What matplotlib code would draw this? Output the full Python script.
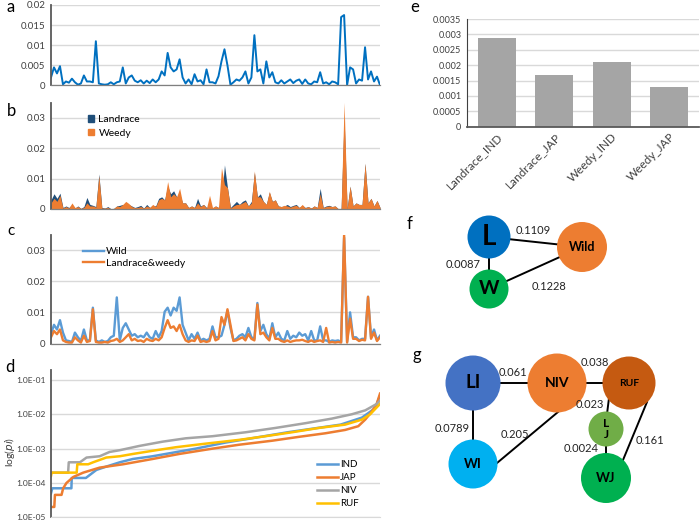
import matplotlib
matplotlib.use('Agg')
import matplotlib.pyplot as plt
from matplotlib.patches import Circle, Patch
from matplotlib.ticker import FixedLocator, NullLocator

plt.rcParams['font.family'] = ['Lato', 'DejaVu Sans']

# ---- panel a: pi along the genome (x1e-3) ----
pi_all = [2.0, 4.5, 3.0, 4.8, 0.3, 1.0, 0.7, 1.7, 0.8, 0.2,
          0.5, 2.5, 1.0, 1.0, 0.8, 11.0, 0.5, 0.3, 0.2, 0.3,
          0.8, 0.3, 0.8, 1.0, 4.5, 0.5, 2.0, 2.5, 1.2, 0.8,
          1.3, 0.5, 1.2, 0.6, 1.5, 0.8, 1.5, 3.5, 2.5, 8.1,
          4.5, 3.5, 4.0, 6.5, 2.0, 0.5, 1.5, 0.3, 2.8, 1.0,
          1.3, 0.3, 4.0, 0.8, 0.8, 0.5, 2.3, 6.0, 9.0, 5.0,
          0.2, 0.8, 1.5, 1.2, 2.0, 3.5, 0.5, 2.0, 12.5, 3.5,
          4.0, 0.5, 6.0, 2.0, 3.3, 0.8, 0.5, 1.3, 0.5, 1.0,
          1.5, 0.6, 1.2, 1.5, 0.4, 1.5, 0.5, 0.3, 1.0, 0.8,
          3.3, 0.5, 0.8, 0.3, 1.0, 0.8, 0.3, 17.0, 17.5, 0.1,
          4.5, 4.0, 0.5, 1.5, 1.2, 9.5, 1.5, 3.5, 1.0, 2.2, 0.1]

# ---- panel b: landrace / weedy (x1e-3) ----
pi_landrace = [3.0, 5.0, 3.5, 5.2, 0.5, 1.0, 0.5, 1.5, 0.3, 1.0,
               0.2, 0.8, 3.8, 1.5, 1.2, 0.8, 11.5, 0.5, 0.3, 0.8,
               0.1, 0.2, 1.0, 1.2, 1.5, 1.2, 1.5, 1.0, 0.5, 0.8,
               1.2, 0.3, 1.5, 0.5, 1.2, 1.0, 3.5, 4.0, 3.0, 7.5,
               5.0, 6.0, 4.0, 5.0, 2.0, 2.0, 0.5, 1.0, 0.5, 3.5,
               1.0, 1.5, 0.5, 1.0, 0.3, 1.0, 0.5, 3.0, 14.5, 7.0,
               0.5, 1.5, 2.5, 1.5, 2.5, 3.0, 1.0, 2.5, 12.0, 4.0,
               5.0, 2.5, 1.5, 5.5, 2.5, 3.0, 1.0, 0.8, 1.0, 1.5,
               0.8, 1.2, 1.5, 0.5, 1.2, 0.5, 0.8, 0.3, 1.0, 0.5,
               6.8, 0.5, 1.0, 1.2, 0.8, 1.0, 0.1, 0.1, 30.0, 0.1,
               7.5, 1.0, 2.0, 1.5, 1.5, 15.0, 2.0, 3.5, 1.0, 2.8, 0.5]
pi_weedy = [2.0, 3.5, 2.5, 4.5, 0.3, 0.8, 0.3, 2.0, 0.5, 0.8,
            0.2, 0.5, 2.0, 1.0, 1.0, 0.6, 11.0, 0.3, 0.3, 0.5,
            0.1, 0.2, 1.0, 0.8, 1.5, 2.5, 1.8, 0.8, 0.4, 0.5,
            0.8, 0.3, 1.0, 0.5, 1.5, 0.8, 3.0, 3.5, 3.0, 9.0,
            4.0, 5.0, 4.0, 6.8, 2.0, 2.0, 0.5, 1.0, 0.5, 2.0,
            0.8, 1.5, 0.3, 4.5, 0.5, 1.0, 0.5, 13.5, 8.0, 7.0,
            0.3, 1.0, 1.5, 1.5, 2.0, 2.5, 1.0, 2.0, 12.5, 4.0,
            4.0, 2.5, 1.5, 5.8, 2.5, 3.0, 1.0, 0.8, 1.2, 1.0,
            0.6, 1.0, 1.2, 0.5, 1.5, 0.4, 0.8, 0.3, 1.0, 0.5,
            5.0, 0.5, 0.8, 1.0, 0.8, 1.0, 0.1, 0.1, 35.0, 0.1,
            7.5, 1.0, 2.0, 1.5, 1.5, 15.0, 2.0, 3.5, 1.0, 2.8, 0.5]

# ---- panel c: wild / landrace&weedy (x1e-3) ----
pi_wild = [3.0, 6.0, 4.5, 7.5, 3.5, 1.0, 0.8, 0.5, 3.5, 2.0,
           0.8, 4.5, 1.0, 1.0, 11.5, 1.0, 0.5, 1.0, 0.5, 0.8,
           2.0, 2.5, 14.8, 1.0, 5.0, 6.5, 4.5, 2.5, 3.0, 2.0,
           2.5, 2.0, 3.5, 2.0, 1.5, 4.0, 2.0, 4.0, 10.2, 11.5,
           9.0, 11.5, 10.5, 14.8, 6.0, 3.5, 1.0, 3.0, 1.5, 3.5,
           1.0, 1.5, 1.0, 1.5, 5.5, 2.0, 2.0, 2.5, 6.0, 10.5,
           5.0, 1.0, 1.5, 2.5, 3.0, 2.0, 5.0, 2.0, 1.5, 13.0,
           4.0, 6.0, 3.0, 1.5, 6.5, 2.0, 3.5, 1.5, 1.0, 4.0,
           1.5, 2.5, 2.0, 3.5, 2.5, 3.0, 1.0, 4.0, 1.0, 1.0,
           5.5, 1.0, 1.0, 0.5, 1.0, 0.8, 1.0, 0.5, 34.0, 0.5,
           10.0, 2.0, 2.0, 1.0, 1.5, 1.5, 15.0, 2.0, 4.5, 1.0, 2.5]
pi_lw = [2.0, 4.0, 3.0, 4.5, 1.0, 0.5, 0.3, 0.3, 2.0, 1.0,
         0.3, 2.5, 0.5, 0.8, 11.0, 0.5, 0.3, 0.3, 0.5, 0.3,
         0.8, 1.0, 1.5, 0.5, 1.0, 2.0, 3.0, 1.0, 1.5, 0.8,
         1.0, 0.5, 1.5, 1.0, 0.8, 1.5, 1.0, 2.0, 5.0, 7.5,
         5.0, 5.5, 4.0, 6.0, 3.0, 1.0, 0.5, 1.0, 0.8, 2.5,
         0.5, 0.8, 0.5, 0.8, 4.0, 1.0, 1.5, 8.5, 6.0, 11.0,
         6.0, 0.8, 1.0, 1.5, 2.0, 1.0, 3.0, 1.5, 1.0, 12.5,
         3.0, 3.5, 2.0, 1.0, 5.0, 1.5, 1.5, 0.8, 0.5, 1.0,
         0.5, 0.8, 1.0, 1.0, 1.2, 0.8, 0.5, 1.0, 0.5, 0.8,
         1.0, 0.5, 5.0, 0.3, 0.5, 0.3, 0.5, 0.3, 35.0, 0.3,
         8.0, 1.5, 1.5, 0.8, 1.2, 1.0, 15.0, 1.5, 3.5, 0.8, 2.0]

# ---- panel d: sorted pi per group (percent rank, value) ----
ind_rank = [0, 0.4, 6.2, 6.3, 10.6, 13.8, 16.8, 20.9, 24.9, 30.9, 44, 53, 61, 72, 81, 88, 94.5, 98.5, 100]
ind_pi = [5e-5, 7e-5, 7e-5, 1.4e-4, 1.4e-4, 2.4e-4, 3e-4, 4e-4, 5e-4, 6e-4, 1e-3, 1.5e-3,
          2e-3, 3e-3, 4e-3, 5e-3, 8e-3, 1.5e-2, 3.5e-2]
jap_rank = [0, 1.0, 1.2, 3.2, 3.7, 4.7, 6.8, 9.8, 14.8, 21.9, 30.9, 39, 49.1, 57.2, 67.2,
            75.3, 83.4, 89.4, 93.4, 95.5, 97.5, 99, 100]
jap_pi = [2e-5, 2e-5, 4.5e-5, 4.5e-5, 7e-5, 1e-4, 1.5e-4, 2e-4, 2.8e-4, 3.5e-4, 5e-4, 7e-4,
          1e-3, 1.3e-3, 1.7e-3, 2.2e-3, 2.8e-3, 3.5e-3, 4.5e-3, 7e-3, 1.2e-2, 2e-2, 4e-2]
niv_rank = [0, 5.2, 5.4, 8.8, 10.8, 14.8, 17.8, 20.9, 26.9, 34, 41, 49.1, 59.2, 68.2, 77.3,
            85.4, 91.4, 95.5, 99, 100]
niv_pi = [2e-4, 2e-4, 4e-4, 4e-4, 5.5e-4, 6e-4, 8e-4, 9e-4, 1.2e-3, 1.6e-3, 2e-3, 2.3e-3,
          3e-3, 4e-3, 5.5e-3, 7.5e-3, 1e-2, 1.3e-2, 2e-2, 2.5e-2]
ruf_rank = [0, 0.2, 7.8, 8.0, 11.3, 12.8, 16.8, 20.9, 24.9, 32, 38, 47.1, 57.2, 65.2, 73.3,
            81.4, 89.4, 94.5, 97, 100]
ruf_pi = [1.6e-4, 2e-4, 2e-4, 3.5e-4, 3.5e-4, 4e-4, 5.5e-4, 6e-4, 7e-4, 9e-4, 1.1e-3, 1.4e-3,
          1.8e-3, 2.3e-3, 3e-3, 4e-3, 5e-3, 7e-3, 1e-2, 2e-2]

# ---- panel e ----
bar_names = ['Landrace_IND', 'Landrace_JAP', 'Weedy_IND', 'Weedy_JAP']
bar_pi = [0.00289, 0.00167, 0.00209, 0.00130]

# ---- panels f, g: networks ----
f_nodes = ['L', 'W', 'Wild']
f_edges = [('L', 'Wild', '0.1109'), ('L', 'W', '0.0087'), ('W', 'Wild', '0.1228')]
g_nodes = ['LI', 'NIV', 'RUF', 'LJ', 'WI', 'WJ']
g_edges = [('LI', 'NIV', '0.061'), ('NIV', 'RUF', '0.038'), ('LI', 'WI', '0.0789'),
           ('NIV', 'WI', '0.205'), ('RUF', 'LJ', '0.023'), ('LJ', 'WJ', '0.0024'),
           ('RUF', 'WJ', '0.161')]

# layout of the network drawing (pixel units of the figure)
node_style = {
    'L':    dict(xy=(489, 237), r=21.5, color='#0070c0', text='L', size=20),
    'W':    dict(xy=(489, 289), r=19.5, color='#00b050', text='W', size=14),
    'Wild': dict(xy=(582, 247), r=25, color='#ed7d31', text='Wild', size=9),
    'LI':   dict(xy=(473, 383), r=27.5, color='#4472c4', text='LI', size=13.5),
    'NIV':  dict(xy=(557, 383), r=29.5, color='#ed7d31', text='NIV', size=10),
    'RUF':  dict(xy=(629, 383), r=26.5, color='#c55a11', text='RUF', size=7.5),
    'LJ':   dict(xy=(606, 429), r=17.5, color='#70ad47', text='L\nJ', size=8.5),
    'WI':   dict(xy=(473, 464), r=24.5, color='#00b0f0', text='WI', size=9.5),
    'WJ':   dict(xy=(606, 478), r=25, color='#00b050', text='WJ', size=9.5),
}
edge_style = {
    ('L', 'Wild'):  dict(p0=(0, 0), p1=(0, 0), lab=(533, 231)),
    ('L', 'W'):     dict(p0=(0, 0), p1=(0, 0), lab=(463, 265)),
    ('W', 'Wild'):  dict(p0=(0, 0), p1=(0, 0), lab=(549, 287)),
    ('LI', 'NIV'):  dict(p0=(0, 0), p1=(0, 0), lab=(513, 373)),
    ('NIV', 'RUF'): dict(p0=(0, 0), p1=(0, 0), lab=(595, 362)),
    ('LI', 'WI'):   dict(p0=(0, 0), p1=(0, 0), lab=(452, 429)),
    ('NIV', 'WI'):  dict(p0=(1, 29), p1=(24, -1), lab=(515, 435)),
    ('RUF', 'LJ'):  dict(p0=(-20, 15), p1=(1, -15), lab=(590, 404)),
    ('LJ', 'WJ'):   dict(p0=(0, 0), p1=(0, 0), lab=(581, 449)),
    ('RUF', 'WJ'):  dict(p0=(18, 19), p1=(17, -18), lab=(650, 440)),
}

W, H = 700, 522
fig = plt.figure(figsize=(W / 100, H / 100), dpi=100)


def box(left, top, right, bottom):
    return [left / W, 1 - bottom / H, (right - left) / W, (bottom - top) / H]


def fmt_plain(v):
    return ('%.4f' % v).rstrip('0').rstrip('.')


def excel_axes(ax, ticks):
    ax.set_ylim(0, ticks[-1] if ticks[-1] >= 0.02 and len(ticks) == 5 else 0.035)
    ax.set_xlim(0, len(pi_all) - 1)
    ax.yaxis.set_major_locator(FixedLocator(ticks))
    ax.set_yticklabels([fmt_plain(t) for t in ticks])
    ax.xaxis.set_major_locator(NullLocator())
    ax.grid(axis='y', color='#d9d9d9', lw=1)
    ax.set_axisbelow(True)
    ax.tick_params(axis='y', length=0, pad=4, labelsize=7, colors='#404040')
    for s in ['top', 'right']:
        ax.spines[s].set_visible(False)
    ax.spines['left'].set_color('#595959')
    ax.spines['left'].set_linewidth(1.3)
    ax.spines['bottom'].set_color('#7f7f7f')
    ax.spines['bottom'].set_linewidth(0.9)


x = list(range(len(pi_all)))

# a
ax_a = fig.add_axes(box(51, 5, 380, 85.5))
excel_axes(ax_a, [0, 0.005, 0.01, 0.015, 0.02])
ax_a.set_ylim(0, 0.02)
ax_a.plot(x, [v * 1e-3 for v in pi_all], color='#0070c0', lw=1.4)

# b
ax_b = fig.add_axes(box(51, 102.5, 380, 209))
excel_axes(ax_b, [0, 0.01, 0.02, 0.03])
ax_b.set_ylim(0, 0.035)
ax_b.fill_between(x, [v * 1e-3 for v in pi_landrace], color='#1f4e79', lw=0)
ax_b.fill_between(x, [v * 1e-3 for v in pi_weedy], color='#ed7d31', lw=0)
ax_b.legend(handles=[Patch(color='#1f4e79', label='Landrace'),
                     Patch(color='#ed7d31', label='Weedy')],
            loc='upper left', bbox_to_anchor=(88 / W, 1 - 115 / H),
            bbox_transform=fig.transFigure, frameon=False, fontsize=7.5,
            handlelength=0.6, handleheight=0.6, handletextpad=0.4,
            labelspacing=0.45, borderpad=0, borderaxespad=0)

# c
ax_c = fig.add_axes(box(51, 234.5, 380, 343.5))
excel_axes(ax_c, [0, 0.01, 0.02, 0.03])
ax_c.set_ylim(0, 0.035)
ax_c.plot(x, [v * 1e-3 for v in pi_wild], color='#5b9bd5', lw=1.7, label='Wild')
ax_c.plot(x, [v * 1e-3 for v in pi_lw], color='#ed7d31', lw=1.7, label='Landrace&weedy')
ax_c.legend(loc='upper left', bbox_to_anchor=(83 / W, 1 - 247 / H),
            bbox_transform=fig.transFigure, frameon=False, fontsize=7.5,
            handlelength=2.0, handletextpad=0.2, labelspacing=0.2,
            borderpad=0, borderaxespad=0)

# d
ax_d = fig.add_axes(box(51, 370, 380, 517.3))
ax_d.set_yscale('log')
ax_d.set_ylim(1e-5, 0.195)
ax_d.set_xlim(0, 100)
ax_d.plot(ind_rank, ind_pi, color='#5b9bd5', lw=1.8, label='IND')
ax_d.plot(jap_rank, jap_pi, color='#ed7d31', lw=1.8, label='JAP')
ax_d.plot(niv_rank, niv_pi, color='#a5a5a5', lw=1.8, label='NIV')
ax_d.plot(ruf_rank, ruf_pi, color='#ffc000', lw=1.8, label='RUF')
dticks = [1e-5, 1e-4, 1e-3, 1e-2, 1e-1]
ax_d.yaxis.set_major_locator(FixedLocator(dticks))
ax_d.yaxis.set_minor_locator(NullLocator())
ax_d.set_yticklabels(['1.0E-05', '1.0E-04', '1.0E-03', '1.0E-02', '1.0E-01'])
ax_d.xaxis.set_major_locator(NullLocator())
ax_d.grid(axis='y', color='#d9d9d9', lw=1)
ax_d.set_axisbelow(True)
ax_d.tick_params(axis='y', length=0, pad=4, labelsize=6, colors='#404040')
for s in ['top', 'right']:
    ax_d.spines[s].set_visible(False)
ax_d.spines['left'].set_color('#595959')
ax_d.spines['left'].set_linewidth(1.3)
ax_d.spines['bottom'].set_color('#d9d9d9')
fig.text(10 / W, 1 - 452 / H, r'log($pi$)', fontsize=7.5, color='#404040',
         rotation=90, ha='center', va='center')
ax_d.legend(loc='upper left', bbox_to_anchor=(317 / W, 1 - 460 / H),
            bbox_transform=fig.transFigure, frameon=False, fontsize=7,
            handlelength=2.2, handletextpad=0.15, labelspacing=0.42,
            borderpad=0, borderaxespad=0)

# e
ax_e = fig.add_axes(box(467, 19, 699, 126.7))
ax_e.bar(range(len(bar_pi)), bar_pi, width=0.665, color='#a5a5a5')
ax_e.set_xlim(-0.52, len(bar_pi) - 0.48)
ax_e.set_ylim(0, 0.0035)
eticks = [k * 0.0005 for k in range(8)]
ax_e.yaxis.set_major_locator(FixedLocator(eticks))
ax_e.set_yticklabels([fmt_plain(t) for t in eticks])
ax_e.set_xticks(range(len(bar_pi)))
ax_e.set_xticklabels(bar_names, rotation=45, ha='right', rotation_mode='anchor')
ax_e.grid(axis='y', color='#d9d9d9', lw=1)
ax_e.set_axisbelow(True)
ax_e.tick_params(axis='y', length=0, pad=4, labelsize=6.5, colors='#404040')
ax_e.tick_params(axis='x', length=0, pad=3, labelsize=8.5, colors='#404040')
for s in ['top', 'right']:
    ax_e.spines[s].set_visible(False)
ax_e.spines['left'].set_color('#404040')
ax_e.spines['bottom'].set_color('#595959')
ax_e.spines['bottom'].set_linewidth(1.3)

# f, g networks
ax_n = fig.add_axes(box(400, 205, 700, 522))
ax_n.set_xlim(400, 700)
ax_n.set_ylim(522, 205)
ax_n.axis('off')
for a, b, lab in f_edges + g_edges:
    st = edge_style[(a, b)]
    (xa, ya), (xb, yb) = node_style[a]['xy'], node_style[b]['xy']
    ax_n.plot([xa + st['p0'][0], xb + st['p1'][0]], [ya + st['p0'][1], yb + st['p1'][1]],
              color='black', lw=1.4, zorder=1)
    ax_n.text(st['lab'][0], st['lab'][1], lab, fontsize=8, ha='center', va='center',
              color='#222222', zorder=3)
for name in f_nodes + g_nodes:
    st = node_style[name]
    ax_n.add_patch(Circle(st['xy'], st['r'], color=st['color'], lw=0, zorder=2))
    ax_n.text(st['xy'][0], st['xy'][1], st['text'], fontsize=st['size'], fontweight='bold',
              ha='center', va='center', color='black', zorder=3, linespacing=1.1)

# panel letters
for lab, px, py, sz in [('a', 11, 7, 12), ('b', 11, 111, 12), ('c', 11, 231, 11),
                        ('d', 10, 367, 12), ('e', 415, 7, 12), ('f', 410, 224, 12),
                        ('g', 417, 355, 12)]:
    fig.text(px / W, 1 - py / H, lab, fontsize=sz, ha='center', va='center')

fig.savefig('out.png', dpi=100)
